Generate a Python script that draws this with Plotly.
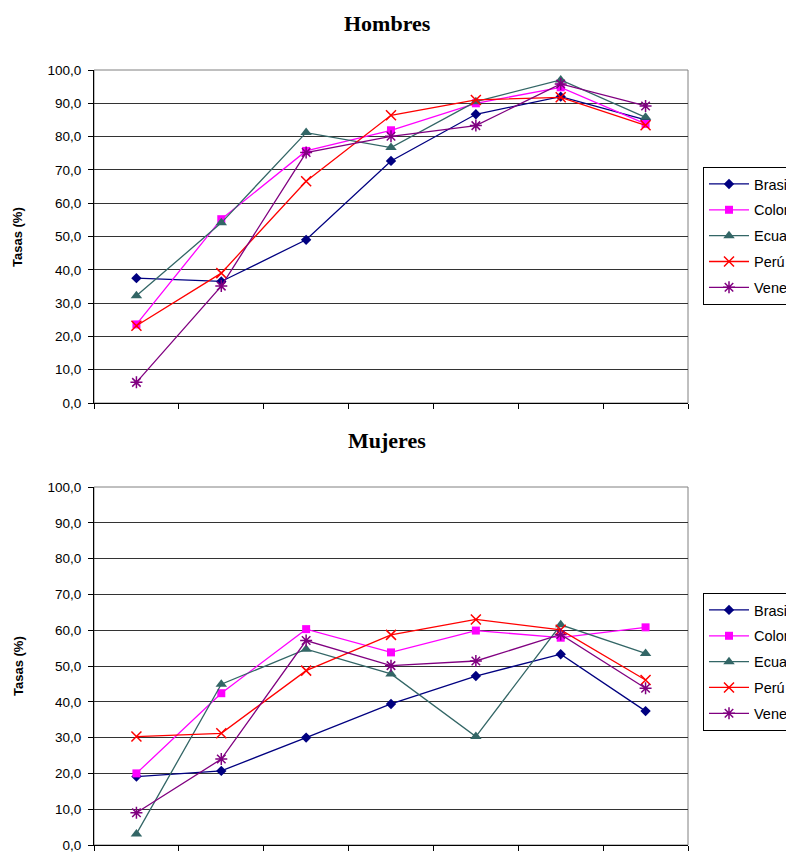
import plotly.graph_objects as go

categories = ["G1", "G2", "G3", "G4", "G5", "G6", "G7"]
countries = ["Brasil", "Colombia", "Ecuador", "Perú", "Venezuela"]

hombres_brasil = [37.5, 36.5, 49.0, 72.7, 86.7, 92.0, 85.0]
hombres_colombia = [23.6, 55.2, 75.7, 81.9, 90.0, 94.8, 83.8]
hombres_ecuador = [32.2, 54.1, 81.2, 76.7, 90.5, 97.0, 85.8]
hombres_peru = [23.2, 39.0, 66.6, 86.4, 91.0, 91.8, 83.4]
hombres_venezuela = [6.2, 35.1, 75.2, 80.1, 83.3, 95.8, 89.2]

mujeres_brasil = [19.1, 20.7, 30.0, 39.4, 47.2, 53.3, 37.4]
mujeres_colombia = [20.0, 42.4, 60.3, 53.8, 59.9, 57.9, 60.8]
mujeres_ecuador = [3.1, 44.9, 54.7, 47.8, 30.3, 61.5, 53.5]
mujeres_peru = [30.3, 31.2, 48.7, 58.7, 63.0, 60.1, 46.1]
mujeres_venezuela = [9.0, 24.0, 57.1, 50.1, 51.4, 58.8, 43.8]

hombres = [hombres_brasil, hombres_colombia, hombres_ecuador, hombres_peru, hombres_venezuela]
mujeres = [mujeres_brasil, mujeres_colombia, mujeres_ecuador, mujeres_peru, mujeres_venezuela]

colors = ["#000080", "#FF00FF", "#336666", "#FF0000", "#800080"]
symbols = ["diamond", "square", "triangle-up", "x-thin", "asterisk"]
msizes = [8, 8, 10, 10, 10]

W, H = 786, 852
fig = go.Figure()

def addset(data, xa, ya, legend, tag):
    for i, name in enumerate(countries):
        sym = symbols[i]
        mk = dict(symbol=sym, size=msizes[i], color=colors[i])
        if sym in ("x-thin", "asterisk"):
            mk["line"] = dict(color=colors[i], width=1.5)
        else:
            mk["line"] = dict(width=0)
        fig.add_trace(go.Scatter(
            x=categories, y=data[i], name=name, mode="lines+markers",
            line=dict(color=colors[i], width=1.3), marker=mk,
            xaxis=xa, yaxis=ya, legend=legend, legendgroup=tag + name,
        ))

addset(hombres, "x", "y", "legend", "h")
addset(mujeres, "x2", "y2", "legend2", "m")

xl, xr = 94 / W, 688 / W
top1, bot1 = 1 - 70 / H, 1 - 403 / H
top2, bot2 = 1 - 487 / H, 1 - 845 / H

axfont = dict(family="Liberation Sans, Arial", size=13.5, color="black")
xcommon = dict(type="category", tickson="boundaries", showticklabels=False,
               ticks="outside", ticklen=5, tickcolor="black", showline=True,
               linecolor="black", linewidth=1, showgrid=False, range=[-0.5, 6.5],
               zeroline=False, fixedrange=True)
ycommon = dict(range=[0, 100], dtick=10, tickformat=".1f", showline=True,
               linecolor="black", linewidth=1, ticks="outside", ticklen=5,
               tickcolor="black", showgrid=True, gridcolor="#333333", gridwidth=1,
               zeroline=False, tickfont=axfont, fixedrange=True,
               ticklabelstandoff=4, ticklabeloverflow="allow")
yinside = dict(range=[0, 100], dtick=10, showline=False, ticks="inside", ticklen=5,
               tickcolor="black", showgrid=False, zeroline=False,
               showticklabels=False, fixedrange=True)

legfont = dict(family="Liberation Sans, Arial", size=14.5, color="black")
fig.update_layout(
    width=W, height=H,
    margin=dict(l=0, r=0, t=0, b=0, autoexpand=False),
    paper_bgcolor="white", plot_bgcolor="white",
    separators=",.",
    xaxis=dict(domain=[xl, xr], anchor="y", **xcommon),
    yaxis=dict(domain=[bot1, top1], anchor="x", **ycommon),
    xaxis2=dict(domain=[xl, xr], anchor="y2", **xcommon),
    yaxis2=dict(domain=[bot2, top2], anchor="x2", **ycommon),
    yaxis3=dict(overlaying="y", anchor="x", **yinside),
    yaxis4=dict(overlaying="y2", anchor="x2", **yinside),
    legend=dict(x=703 / W, y=1 - 167 / H, xanchor="left", yanchor="top",
                bordercolor="black", borderwidth=1, bgcolor="white",
                font=legfont, itemwidth=40, tracegroupgap=4),
    legend2=dict(x=703 / W, y=1 - 593 / H, xanchor="left", yanchor="top",
                 bordercolor="black", borderwidth=1, bgcolor="white",
                 font=legfont, itemwidth=40, tracegroupgap=4),
    showlegend=True,
)

# plot-area border (gray)
for xd, yd in (("x domain", "y domain"), ("x2 domain", "y2 domain")):
    fig.add_shape(type="rect", xref=xd, yref=yd, x0=0, x1=1, y0=0, y1=1,
                  line=dict(color="#808080", width=1), layer="below")

titlefont = dict(family="Liberation Serif, Times New Roman", size=22, color="black")
fig.add_annotation(text="<b>Hombres</b>", x=387 / W, y=1 - 23 / H, xref="paper", yref="paper",
                   showarrow=False, font=titlefont, xanchor="center", yanchor="middle")
fig.add_annotation(text="<b>Mujeres</b>", x=387 / W, y=1 - 440 / H, xref="paper", yref="paper",
                   showarrow=False, font=titlefont, xanchor="center", yanchor="middle")
yfont = dict(family="Liberation Sans, Arial", size=13, color="black")
fig.add_annotation(text="<b>Tasas (%)</b>", x=18 / W, y=1 - 237 / H, xref="paper", yref="paper",
                   showarrow=False, font=yfont, textangle=-90, xanchor="center", yanchor="middle")
fig.add_annotation(text="<b>Tasas (%)</b>", x=18 / W, y=1 - 666 / H, xref="paper", yref="paper",
                   showarrow=False, font=yfont, textangle=-90, xanchor="center", yanchor="middle")

fig.write_html("out.html", config={"displayModeBar": False})
